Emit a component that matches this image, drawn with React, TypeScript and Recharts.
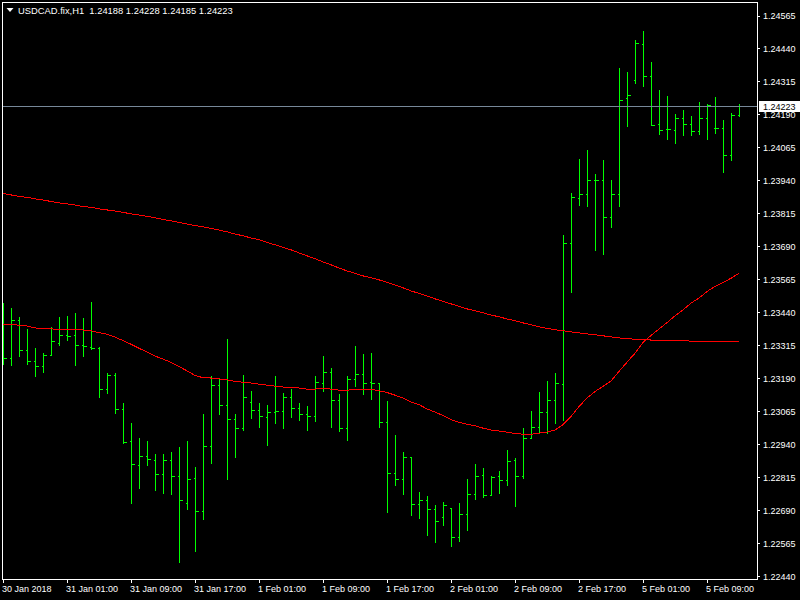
import { Bar, ComposedChart, Line, ReferenceLine, XAxis, YAxis } from "recharts";

const GREEN = "#00ff00";
const RED = "#ff0000";
const FONT = "'Liberation Sans', Arial, sans-serif";

const header = "USDCAD.fix,H1  1.24188 1.24228 1.24185 1.24223";
const lastPrice = 1.24223;

const timeTicks = [0, 8, 16, 24, 32, 40, 48, 56, 64, 72, 80, 88];
const timeLabels = [
  "30 Jan 2018", "31 Jan 01:00", "31 Jan 09:00", "31 Jan 17:00", "1 Feb 01:00", "1 Feb 09:00",
  "1 Feb 17:00", "2 Feb 01:00", "2 Feb 09:00", "2 Feb 17:00", "5 Feb 01:00", "5 Feb 09:00",
];

const priceTicks = [
  1.2244, 1.22565, 1.2269, 1.22815, 1.2294, 1.23065, 1.2319, 1.23315, 1.2344,
  1.23565, 1.2369, 1.23815, 1.2394, 1.24065, 1.2419, 1.24315, 1.2444, 1.24565,
];

// H1 bars, 30 Jan 17:00 .. 5 Feb 13:00
const opens = [
  1.23262, 1.23266, 1.2341, 1.23299, 1.23257, 1.23235, 1.2328, 1.23325, 1.23356, 1.23355,
  1.23318, 1.2331, 1.23306, 1.23151, 1.23201, 1.23075, 1.22954, 1.22863, 1.22897, 1.22882,
  1.22829, 1.22882, 1.22818, 1.22719, 1.22814, 1.22689, 1.22935, 1.23166, 1.2309, 1.23034,
  1.23, 1.23102, 1.23071, 1.23045, 1.23064, 1.23067, 1.23121, 1.23079, 1.23053, 1.23049,
  1.23174, 1.23215, 1.23109, 1.23003, 1.23189, 1.23208, 1.23177, 1.23174, 1.23026, 1.22833,
  1.2281, 1.22893, 1.22712, 1.22727, 1.22693, 1.22666, 1.227, 1.2259, 1.22677, 1.22753,
  1.22825, 1.22746, 1.22818, 1.22803, 1.22879, 1.22818, 1.22965, 1.23007, 1.23064, 1.23106,
  1.2317, 1.23704, 1.23875, 1.2389, 1.23943, 1.23943, 1.23803, 1.2389, 1.24253, 1.24321,
  1.24458, 1.24337, 1.24155, 1.24136, 1.24132, 1.24178, 1.24155, 1.24128, 1.24178, 1.2414,
  1.2414, 1.24037, 1.24188,
];
const highs = [
  1.23477, 1.23458, 1.23424, 1.23376, 1.23306, 1.23287, 1.23386, 1.23424, 1.23428, 1.23439,
  1.2342, 1.23481, 1.2331, 1.23212, 1.23212, 1.23098, 1.23022, 1.22962, 1.22954, 1.22905,
  1.22905, 1.22909, 1.22931, 1.22954, 1.22852, 1.23054, 1.23199, 1.23193, 1.23338, 1.23056,
  1.23204, 1.23141, 1.23098, 1.23088, 1.23198, 1.23133, 1.23148, 1.23098, 1.23084, 1.232,
  1.23276, 1.23228, 1.23129, 1.232, 1.23314, 1.23281, 1.23285, 1.23174, 1.23103, 1.22974,
  1.2291, 1.22893, 1.22761, 1.22743, 1.2271, 1.22723, 1.227, 1.22716, 1.22807, 1.22864,
  1.22849, 1.2282, 1.2284, 1.22917, 1.22887, 1.23003, 1.23065, 1.23137, 1.23179, 1.23209,
  1.23735, 1.23893, 1.24023, 1.24056, 1.23965, 1.24016, 1.2394, 1.24367, 1.24352, 1.24474,
  1.24508, 1.2439, 1.24284, 1.24261, 1.2419, 1.24208, 1.24185, 1.24238, 1.24231, 1.24257,
  1.2417, 1.24196, 1.24228,
];
const lows = [
  1.23246, 1.2324, 1.23274, 1.23244, 1.23199, 1.23214, 1.23278, 1.23316, 1.23335, 1.2324,
  1.23274, 1.23301, 1.23119, 1.23134, 1.23059, 1.22946, 1.22719, 1.22776, 1.22863, 1.22768,
  1.22756, 1.22753, 1.22492, 1.22693, 1.22536, 1.22657, 1.22869, 1.23054, 1.22809, 1.22892,
  1.22994, 1.2304, 1.23006, 1.22937, 1.23021, 1.23002, 1.23043, 1.23032, 1.22994, 1.23027,
  1.23142, 1.23006, 1.2299, 1.22956, 1.23161, 1.23131, 1.23112, 1.23006, 1.22684, 1.22786,
  1.22752, 1.22672, 1.22661, 1.22596, 1.2257, 1.22634, 1.22555, 1.22574, 1.22615, 1.22733,
  1.22742, 1.22746, 1.22756, 1.22787, 1.22706, 1.22812, 1.22964, 1.22988, 1.22984, 1.23022,
  1.23032, 1.23518, 1.23846, 1.23843, 1.23676, 1.23662, 1.23765, 1.23843, 1.24146, 1.24309,
  1.24297, 1.24151, 1.24117, 1.24096, 1.24081, 1.24112, 1.24112, 1.24117, 1.24096, 1.24119,
  1.23973, 1.24017, 1.24185,
];
const closes = [
  1.23266, 1.2341, 1.23299, 1.23257, 1.23235, 1.2328, 1.23333, 1.23356, 1.23352, 1.23318,
  1.23314, 1.23306, 1.23151, 1.23201, 1.23075, 1.2295, 1.22867, 1.22897, 1.22886, 1.22829,
  1.22882, 1.22818, 1.22727, 1.2281, 1.22689, 1.22935, 1.23166, 1.2309, 1.23034, 1.23003,
  1.23118, 1.23071, 1.23049, 1.23064, 1.23067, 1.23121, 1.23079, 1.23053, 1.23049, 1.23177,
  1.23215, 1.23109, 1.23, 1.23189, 1.23208, 1.23174, 1.23174, 1.23026, 1.22833, 1.2281,
  1.22893, 1.22712, 1.22727, 1.22693, 1.22651, 1.22708, 1.2259, 1.22677, 1.22753, 1.22821,
  1.22746, 1.22816, 1.22803, 1.22876, 1.22821, 1.22965, 1.23007, 1.23064, 1.23106, 1.23174,
  1.23704, 1.23878, 1.2389, 1.23943, 1.23943, 1.23803, 1.2389, 1.24246, 1.24265, 1.2446,
  1.24337, 1.24151, 1.24132, 1.24136, 1.24178, 1.24155, 1.24128, 1.24178, 1.24227, 1.2414,
  1.24037, 1.24189, 1.24223,
];
const maFast = [
  1.23397, 1.23397, 1.23393, 1.2339, 1.23383, 1.23379, 1.23379, 1.23378, 1.23378, 1.23376,
  1.23375, 1.23372, 1.23365, 1.23359, 1.23348, 1.23335, 1.23321, 1.23306, 1.23291, 1.23276,
  1.23265, 1.23252, 1.23237, 1.2322, 1.23203, 1.23194, 1.23193, 1.2319, 1.23186, 1.2318,
  1.23177, 1.23174, 1.2317, 1.23166, 1.23162, 1.23159, 1.23158, 1.23155, 1.23151, 1.23151,
  1.23155, 1.23151, 1.23147, 1.23147, 1.2315, 1.23151, 1.2315, 1.23145, 1.23138, 1.23128,
  1.23117, 1.23102, 1.23092, 1.23076, 1.23064, 1.23051, 1.23035, 1.23025, 1.23018, 1.23012,
  1.23003, 1.22996, 1.22992, 1.22988, 1.22983, 1.2298, 1.2298, 1.22984, 1.22988, 1.22996,
  1.23016, 1.23047, 1.23085, 1.23117, 1.23142, 1.23161, 1.23182, 1.23218, 1.23253, 1.23287,
  1.23328, 1.23354, 1.23379, 1.23403, 1.23429, 1.23451, 1.23477, 1.23496, 1.23521, 1.2354,
  1.23555, 1.23571, 1.2359,
];
const maSlow = [
  1.23893, 1.23887, 1.23881, 1.23878, 1.23872, 1.23868, 1.23862, 1.23857, 1.23853, 1.23849,
  1.23843, 1.2384, 1.23834, 1.2383, 1.23826, 1.23821, 1.23815, 1.23811, 1.23806, 1.238,
  1.23794, 1.23789, 1.23783, 1.23777, 1.23771, 1.23766, 1.2376, 1.23754, 1.23747, 1.23739,
  1.23732, 1.23724, 1.23717, 1.23707, 1.23698, 1.23688, 1.23679, 1.23667, 1.23656, 1.23645,
  1.23633, 1.23622, 1.2361, 1.23599, 1.2359, 1.2358, 1.23573, 1.23565, 1.23556, 1.23546,
  1.23535, 1.23523, 1.23514, 1.23504, 1.23493, 1.23484, 1.23474, 1.23465, 1.23455, 1.23448,
  1.2344, 1.23432, 1.23425, 1.23417, 1.2341, 1.23402, 1.23395, 1.23387, 1.23381, 1.23376,
  1.23372, 1.23368, 1.23364, 1.2336, 1.23357, 1.23353, 1.23349, 1.23345, 1.23342, 1.2334,
  1.23338, 1.23337, 1.23336, 1.23335, 1.23334, 1.23334, 1.23333, 1.23333, 1.23333, 1.23333,
  1.23333, 1.23333, 1.23333,
];

const data = opens.map((open, i) => ({
  i,
  open,
  high: highs[i],
  low: lows[i],
  close: closes[i],
  range: [lows[i], highs[i]],
  maFast: maFast[i],
  maSlow: maSlow[i],
}));

function OhlcBar(props: any) {
  const { x, y, width, height, payload } = props;
  if (!payload || height == null) return null;
  const cx = Math.floor(x + width / 2) + 0.5;
  const k = height / (payload.high - payload.low || 1);
  const yo = Math.floor(y + (payload.high - payload.open) * k) + 0.5;
  const yc = Math.floor(y + (payload.high - payload.close) * k) + 0.5;
  return (
    <g stroke={GREEN} strokeWidth={1} shapeRendering="crispEdges">
      <line x1={cx} x2={cx} y1={Math.floor(y)} y2={Math.floor(y + height) + 1} />
      <line x1={cx - 2} x2={cx} y1={yo} y2={yo} />
      <line x1={cx} x2={cx + 3} y1={yc} y2={yc} />
    </g>
  );
}

function TimeTick({ x, y, payload }: any) {
  const cx = Math.floor(x) + 0.5;
  const label = timeLabels[timeTicks.indexOf(payload.value)];
  return (
    <g>
      <line x1={cx} x2={cx} y1={y} y2={y + 4} stroke="#fff" shapeRendering="crispEdges" />
      <text x={x - 1} y={y + 12.5} fill="#fff" fontSize={9} fontFamily={FONT}>
        {label}
      </text>
    </g>
  );
}

function PriceTick({ x, y, payload }: any) {
  const v = payload.value;
  const yy = Math.floor(y) + 0.5;
  if (Math.abs(v - lastPrice) < 1e-9) {
    return (
      <g>
        <rect x={x + 2} y={Math.floor(y) - 5} width={43} height={11} fill="#fff" />
        <text x={x + 6} y={y + 3.5} fill="#000" fontSize={9} fontFamily={FONT}>
          {v.toFixed(5)}
        </text>
      </g>
    );
  }
  return (
    <g>
      <line x1={x} x2={x + 3} y1={yy} y2={yy} stroke="#fff" shapeRendering="crispEdges" />
      <text x={x + 6} y={y + 3.3} fill="#fff" fontSize={9} fontFamily={FONT}>
        {v.toFixed(5)}
      </text>
    </g>
  );
}

export default function App() {
  return (
    <div style={{ position: "absolute", left: 0, top: 0, width: 800, height: 600, background: "#000" }}>
      <ComposedChart
        width={800}
        height={600}
        data={data}
        margin={{ top: 3, right: 0, bottom: 0, left: 2 }}
      >
        <XAxis
          dataKey="i"
          type="number"
          domain={[-0.125, 94.25]}
          allowDataOverflow
          ticks={timeTicks}
          interval={0}
          height={21}
          tickSize={0}
          tickMargin={0}
          axisLine={false}
          tickLine={false}
          tick={<TimeTick />}
        />
        <YAxis
          orientation="right"
          type="number"
          domain={[1.224313, 1.246143]}
          allowDataOverflow
          ticks={[...priceTicks, lastPrice]}
          interval={0}
          width={43}
          tickSize={0}
          tickMargin={0}
          axisLine={false}
          tickLine={false}
          tick={<PriceTick />}
        />
        <ReferenceLine y={lastPrice} stroke="#778899" strokeWidth={1} shapeRendering="crispEdges" />
        <Line
          dataKey="maSlow"
          stroke={RED}
          strokeWidth={1}
          dot={false}
          type="linear"
          shapeRendering="crispEdges"
          isAnimationActive={false}
        />
        <Line
          dataKey="maFast"
          stroke={RED}
          strokeWidth={1}
          dot={false}
          type="linear"
          shapeRendering="crispEdges"
          isAnimationActive={false}
        />
        <Bar dataKey="range" barSize={6} shape={<OhlcBar />} isAnimationActive={false} />
      </ComposedChart>
      <div
        style={{
          position: "absolute",
          left: 2,
          top: 2,
          width: 756,
          height: 578,
          border: "1px solid #fff",
          boxSizing: "border-box",
          pointerEvents: "none",
        }}
      />
      <svg width={300} height={20} style={{ position: "absolute", left: 0, top: 0 }}>
        <polygon points="6.5,8 13.5,8 10,12" fill="#fff" />
        <text x={18} y={14} fill="#fff" fontSize={9.4} fontFamily={FONT} style={{ whiteSpace: "pre" }}>
          {header}
        </text>
      </svg>
    </div>
  );
}
